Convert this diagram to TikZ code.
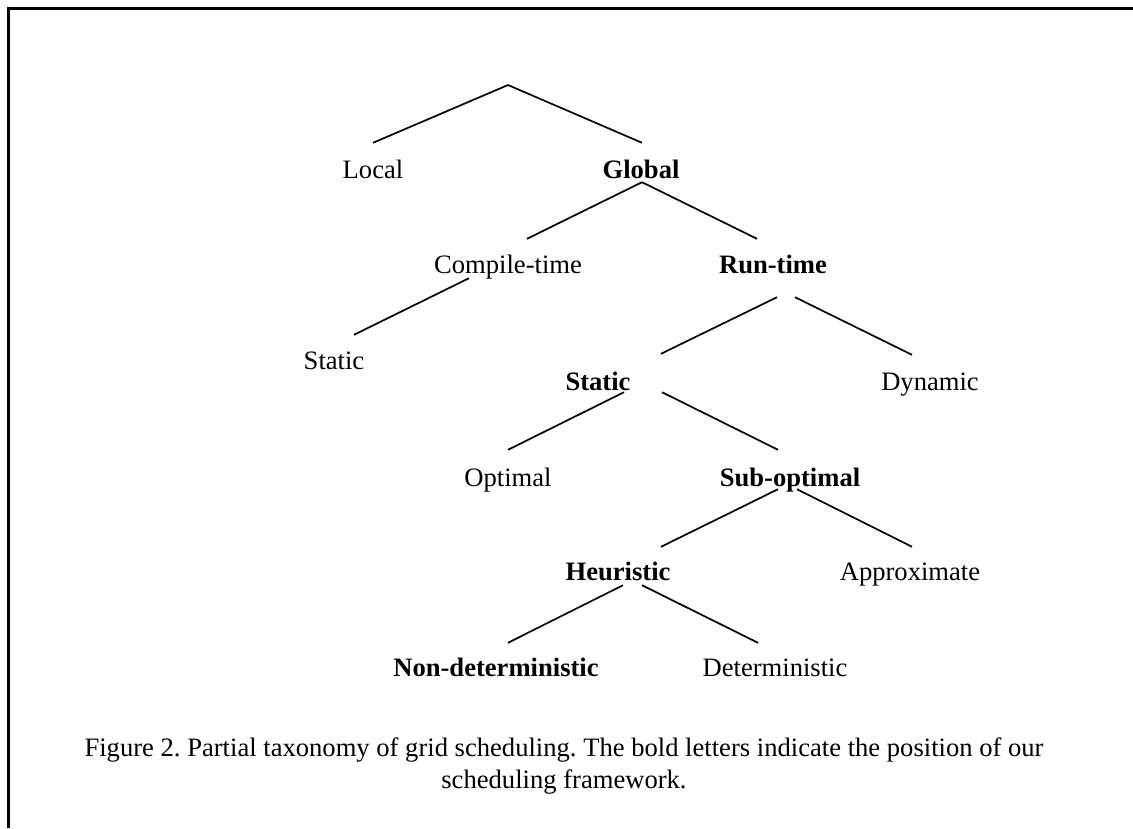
\documentclass[tikz,border=0pt]{standalone}
\usepackage{fontspec}
\setmainfont{Liberation Serif}
\usepackage{tikz}
\usetikzlibrary{calc,positioning}
\frenchspacing

\begin{document}
\begin{tikzpicture}[
      x=1pt, y=-1pt, % unidades em pixels, eixo y para baixo
      every node/.style={font=\fontsize{26.6}{32}\selectfont},
      term/.style={anchor=base, inner sep=0pt, text height=18pt, text depth=4pt},
      ours/.style={term, font=\fontsize{26.6}{32}\selectfont\bfseries},
      branch/.style={line width=1.7pt},
      frame/.style={line width=2.2pt},
  ]
      \useasboundingbox (0,0) rectangle (1133,828);
      \draw[frame] (1133,8.5) -| (8.5,828);

      % --- RAIZ ---
      \coordinate (root) at (508,85);

      % --- NIVEL 1 ---
      \node[term] (local) at (373,178) {Local};
      \node[ours] (global) at (641,178) {Global};

      % --- NIVEL 2 ---
      \node[term] (compile) at (508,273) {Compile-time};
      \node[ours] (runtime) at (773,273) {Run-time};

      % --- NIVEL 3 ---
      \node[term] (cstatic) at (334,369) {Static};
      \node[ours] (rstatic) at (598,390) {Static};
      \node[term] (dynamic) at (930,390) {Dynamic};

      % --- NIVEL 4 ---
      \node[term] (optimal) at (508,486) {Optimal};
      \node[ours] (subopt) at (790,486) {Sub-optimal};

      % --- NIVEL 5 ---
      \node[ours] (heur) at (618,580) {Heuristic};
      \node[term] (approx) at (910,580) {Approximate};

      % --- NIVEL 6 ---
      \node[ours] (nondet) at (496,676) {Non-deterministic};
      \node[term] (det) at (775,676) {Deterministic};

      % --- LEGENDA ---
      \node[anchor=base, align=center, inner sep=0pt] (caption) at (564,788)
        {Figure 2. Partial taxonomy of grid scheduling. The bold letters indicate the position of our\\
         scheduling framework.};

      % --- RAMOS ---
      \draw[branch] (root) -- ([shift={(0,-17)}]local.north);
      \draw[branch] (root) -- ([shift={(1,-17)}]global.north);

      \draw[branch] ([shift={(1,0)}]global.south) -- ([shift={(19,-16)}]compile.north);
      \draw[branch] ([shift={(1,0)}]global.south) -- ([shift={(-16,-16)}]runtime.north);

      \draw[branch] ([shift={(-39,1)}]compile.south) -- ([shift={(20,-16)}]cstatic.north);

      \draw[branch] ([shift={(4,20)}]runtime.south) -- ([shift={(63,-18)}]rstatic.north);
      \draw[branch] ([shift={(22,20)}]runtime.south) -- ([shift={(-18,-17)}]dynamic.north);

      \draw[branch] ([shift={(26,-2)}]rstatic.south) -- ([shift={(0,-18)}]optimal.north);
      \draw[branch] ([shift={(64,-2)}]rstatic.south) -- ([shift={(-12,-18)}]subopt.north);

      \draw[branch] ([shift={(-12,-1)}]subopt.south) -- ([shift={(43,-15)}]heur.north);
      \draw[branch] ([shift={(7,-1)}]subopt.south) -- ([shift={(2,-15)}]approx.north);

      \draw[branch] ([shift={(5,1)}]heur.south) -- ([shift={(12,-15)}]nondet.north);
      \draw[branch] ([shift={(24,1)}]heur.south) -- ([shift={(-17,-15)}]det.north);

  \end{tikzpicture}
\end{document}
